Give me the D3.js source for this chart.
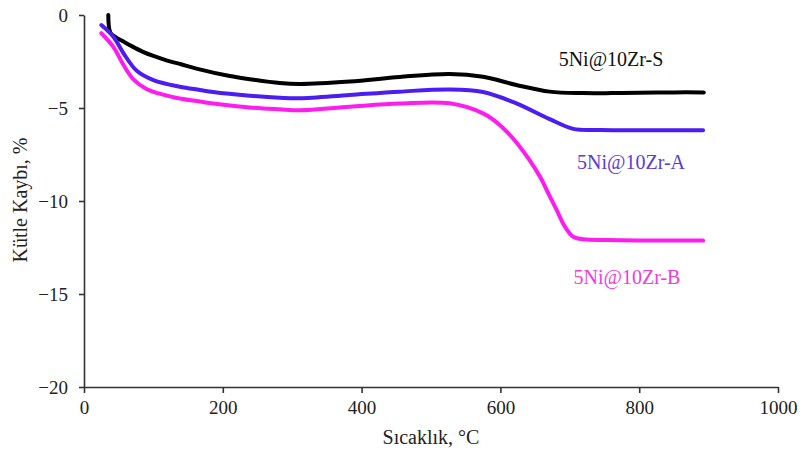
<!DOCTYPE html>
<html>
<head>
<meta charset="utf-8">
<script src="https://cdn.jsdelivr.net/npm/d3@7/dist/d3.min.js"></script>
<style>
  html, body { margin: 0; padding: 0; background: #fff; }
  svg { display: block; }
  text { font-family: "Liberation Serif", "Times New Roman", serif; }
</style>
</head>
<body>
<svg id="chart" width="803" height="459"></svg>
<script>
// ---- data ----
const xTicks = [0, 200, 400, 600, 800, 1000];
const yTicks = [0, -5, -10, -15, -20];
const seriesNames = ["5Ni@10Zr-S", "5Ni@10Zr-A", "5Ni@10Zr-B"];

const tempS = [35, 38, 45, 57, 70, 85, 100, 120, 140, 162, 210, 239, 282, 311, 383, 455, 527, 575, 623, 671, 719, 760, 800, 850, 893];
const massS = [0, -0.95, -1.17, -1.43, -1.7, -1.98, -2.2, -2.45, -2.65, -2.88, -3.28, -3.45, -3.66, -3.71, -3.58, -3.33, -3.17, -3.32, -3.76, -4.12, -4.2, -4.2, -4.18, -4.16, -4.16];

const tempA = [25, 42, 57, 76, 100, 138, 167, 186, 239, 282, 311, 383, 455, 527, 575, 623, 671, 705, 743, 800, 850, 892];
const massA = [-0.54, -1.16, -2.06, -3.0, -3.5, -3.86, -4.03, -4.14, -4.34, -4.45, -4.48, -4.3, -4.12, -4.0, -4.14, -4.75, -5.6, -6.12, -6.18, -6.2, -6.2, -6.2];

const tempB = [25, 42, 57, 71, 90, 129, 167, 186, 239, 282, 311, 383, 455, 527, 575, 599, 624, 657, 669, 681, 693, 705, 720, 753, 800, 850, 892];
const massB = [-0.98, -1.7, -2.69, -3.45, -3.98, -4.42, -4.65, -4.76, -4.97, -5.07, -5.12, -4.93, -4.76, -4.75, -5.29, -5.91, -6.9, -8.69, -9.59, -10.48, -11.38, -11.92, -12.06, -12.1, -12.12, -12.12, -12.13];

// ---- layout ----
const svg = d3.select("#chart");
const x = d3.scaleLinear().domain([0, 1000]).range([84, 778]);
const y = d3.scaleLinear().domain([-20, 0]).range([387, 15]);

const axisColor = "#333";

const gx = svg.append("g").attr("transform", `translate(0,${y(-20)})`)
  .call(d3.axisBottom(x).tickValues(xTicks).tickFormat(d3.format("d")).tickSize(6).tickPadding(8).tickSizeOuter(0));
const gy = svg.append("g").attr("transform", `translate(${x(0)},0)`)
  .call(d3.axisLeft(y).tickValues(yTicks).tickFormat(d3.format("d")).tickSize(5).tickPadding(11).tickSizeOuter(0));

[gx, gy].forEach(g => {
  g.attr("font-family", null);
  g.select(".domain").attr("stroke", axisColor).attr("stroke-width", 1.6);
  g.selectAll(".tick line").attr("stroke", axisColor).attr("stroke-width", 1.6);
  g.selectAll(".tick text").attr("fill", "#222").style("font-size", "19px")
    .style("font-family", '"Liberation Serif", "Times New Roman", serif');
});

svg.append("text").attr("x", 431).attr("y", 444).attr("text-anchor", "middle")
  .attr("fill", "#222").style("font-size", "20px").text("Sıcaklık, °C");
svg.append("text").attr("transform", "translate(27,200) rotate(-90)").attr("text-anchor", "middle")
  .attr("fill", "#222").style("font-size", "20px").text("Kütle Kaybı, %");

const line = d3.line().x(d => x(d[0])).y(d => y(d[1])).curve(d3.curveCatmullRom.alpha(0.5));
const series = [
  { t: tempS, m: massS, color: "#000000" },
  { t: tempA, m: massA, color: "#4c1df2" },
  { t: tempB, m: massB, color: "#ff1cef" }
];
series.forEach(s => {
  const pts = s.t.map((t, i) => [t, s.m[i]]);
  svg.append("path").datum(pts).attr("d", line)
    .attr("fill", "none").attr("stroke", s.color).attr("stroke-width", 4)
    .attr("stroke-linecap", "round").attr("stroke-linejoin", "round");
});

const labels = [
  { name: seriesNames[0], x: 611, y: 66, color: "#111" },
  { name: seriesNames[1], x: 631, y: 169, color: "#5a3cd8" },
  { name: seriesNames[2], x: 627, y: 284, color: "#ee3ce0" }
];
labels.forEach(l => {
  svg.append("text").attr("x", l.x).attr("y", l.y).attr("text-anchor", "middle")
    .attr("fill", l.color).style("font-size", "20px").text(l.name);
});
</script>
</body>
</html>
